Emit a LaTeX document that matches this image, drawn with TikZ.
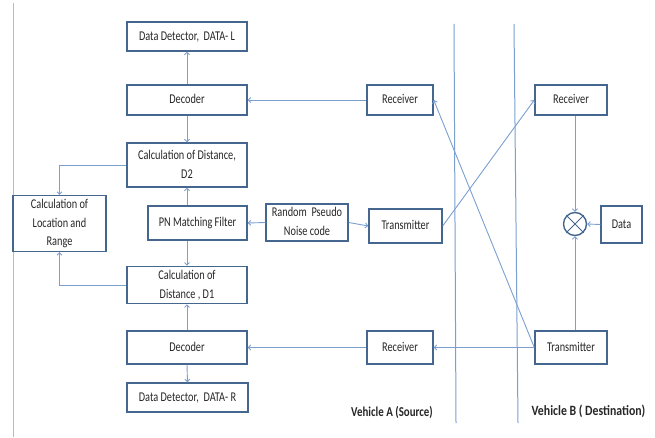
\documentclass[tikz,border=0pt]{standalone}
\usepackage{fontspec}
\setmainfont{Carlito}
\usetikzlibrary{arrows.meta}
\definecolor{boxc}{HTML}{44668F}
\definecolor{linec}{HTML}{7BA0D0}
\definecolor{txtc}{HTML}{262626}
\definecolor{grayc}{HTML}{BBBBBB}
\newcommand\T[1]{\scalebox{1}[1.3]{\begin{tabular}{@{}c@{}}#1\end{tabular}}}
\tikzset{
  blk/.style={draw=boxc, line width=1.4pt, rectangle, inner sep=0pt, text=txtc,
    font=\fontsize{10.3}{14.3}\selectfont},
  con/.style={draw=linec, line width=0.9pt, -{Straight Barb[length=2.5pt,width=5pt]}},
  lbl/.style={text=txtc, inner sep=0pt}
}
\begin{document}
\begin{tikzpicture}[x=1pt,y=-1pt]
\useasboundingbox (0,0) rectangle (655,438);
% left gray border line and separators
\draw[grayc, line width=0.8pt] (13,3) -- (13,437);
\draw[linec, line width=1pt] (454,24) -- (456,423);
\draw[linec, line width=1pt] (514,24) -- (518,423);
% boxes
\node[blk, minimum width=120pt, minimum height=29pt] (ddl) at (187,36.5) {\T{Data Detector,\ \ DATA- L}};
\node[blk, minimum width=120pt, minimum height=30pt] (dec1) at (187,100) {\T{Decoder}};
\node[blk, minimum width=120pt, minimum height=44pt] (d2) at (187,165) {\T{Calculation of Distance,\\D2}};
\node[blk, minimum width=93pt, minimum height=53pt] (loc) at (59.5,223.5) {\T{Calculation of\\Location and\\Range}};
\node[blk, minimum width=99pt, minimum height=34pt] (pn) at (197.5,223) {\T{PN Matching Filter}};
\node[blk, minimum width=82pt, minimum height=35pt] (rpn) at (307,222.5) {\T{Random\ \ Pseudo\\Noise code}};
\node[blk, minimum width=73pt, minimum height=34pt] (txa) at (405.5,226) {\T{Transmitter}};
\node[blk, minimum width=120pt, minimum height=36pt] (d1) at (187,285) {\T{Calculation of\\Distance , D1}};
\node[blk, minimum width=120pt, minimum height=33pt] (dec2) at (187,347.5) {\T{Decoder}};
\node[blk, minimum width=121pt, minimum height=29pt] (ddr) at (187.5,397.5) {\T{Data Detector,\ \ DATA- R}};
\node[blk, minimum width=66pt, minimum height=30pt] (rxa1) at (400,100) {\T{Receiver}};
\node[blk, minimum width=66pt, minimum height=33pt] (rxa2) at (400,347.5) {\T{Receiver}};
\node[blk, minimum width=72pt, minimum height=30pt] (rxb) at (571,100) {\T{Receiver}};
\node[blk, minimum width=72pt, minimum height=33pt] (txb) at (571,347.5) {\T{Transmitter}};
\node[blk, minimum width=41pt, minimum height=37pt] (data) at (621.5,224.5) {\T{Data}};
\node[draw=boxc, line width=1.4pt, circle, minimum size=23pt, inner sep=0pt] (mx) at (575,224) {};
\draw[draw=boxc, line width=0.8pt] (mx.north east) -- (mx.south west) (mx.north west) -- (mx.south east);
% labels
\node[lbl, font=\fontsize{10.9}{13}\selectfont\bfseries] (va) at (392,412) {\scalebox{1}[1.25]{Vehicle A (Source)}};
\node[lbl, font=\fontsize{11.8}{14}\selectfont\bfseries] (vb) at (588.5,411) {\scalebox{1}[1.2]{Vehicle B ( Destination)}};
% connectors
\draw[con] (rxa1.west) -- (dec1.east);
\draw[con] (dec1.north) -- (ddl.south);
\draw[con] (dec1.south) -- (d2.north);
\draw[con] (pn.north -| d2.south) -- (d2.south);
\draw[con] (pn.south -| d1.north) -- (d1.north);
\draw[con] (rpn.west) -- (pn.east);
\draw[con] (rpn.east) -- (txa.west);
\draw[con] (txa.east) -- (rxb.west);
\draw[con] (txb.west) -- (rxa1.east);
\draw[con] (txb.west) -- (rxa2.east);
\draw[con] (rxa2.west) -- (dec2.east);
\draw[con] (dec2.north) -- (d1.south);
\draw[con] (dec2.south) -- (ddr.north);
\draw[con] (d2.west) -| (loc.north);
\draw[con] (d1.west) -| (loc.south);
\draw[con] (rxb.south -| mx.north) -- (mx.north);
\draw[con] (txb.north -| mx.south) -- (mx.south);
\draw[con] (data.west) -- (mx.east);
\end{tikzpicture}
\end{document}
